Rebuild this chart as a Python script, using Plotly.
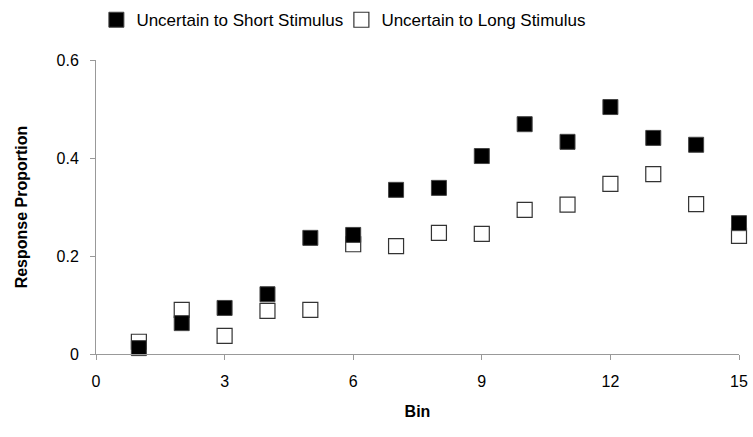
import plotly.graph_objects as go

bins = list(range(1, 16))
short_vals = [0.012, 0.063, 0.094, 0.122, 0.237, 0.243, 0.335, 0.339, 0.404, 0.469, 0.433, 0.504, 0.441, 0.427, 0.267]
long_vals = [0.025, 0.090, 0.037, 0.088, 0.090, 0.224, 0.220, 0.247, 0.245, 0.294, 0.305, 0.347, 0.367, 0.306, 0.241]
x_ticks = [0, 3, 6, 9, 12, 15]
y_ticks = [0, 0.2, 0.4, 0.6]
y_tick_labels = ["0", "0.2", "0.4", "0.6"]

font_main = "Liberation Sans, Arial, sans-serif"

fig = go.Figure()
fig.add_trace(go.Scatter(
    x=bins, y=long_vals, mode="markers", name="Uncertain to Long Stimulus",
    marker=dict(symbol="square", size=15, color="white", line=dict(color="#333333", width=1.2)),
))
fig.add_trace(go.Scatter(
    x=bins, y=short_vals, mode="markers", name="Uncertain to Short Stimulus",
    marker=dict(symbol="square", size=15, color="black", line=dict(color="#444444", width=1)),
))

fig.update_layout(
    width=753, height=437,
    margin=dict(l=96, r=14, t=60, b=83, autoexpand=False),
    plot_bgcolor="white", paper_bgcolor="white",
    font=dict(family=font_main, size=16, color="black"),
    showlegend=True,
    legend=dict(
        orientation="h", traceorder="reversed",
        xref="container", yref="container",
        x=0.128, y=0.995, xanchor="left", yanchor="top",
        font=dict(family=font_main, size=17, color="black"),
        itemwidth=30, entrywidth=200, entrywidthmode="pixels",
    ),
    xaxis=dict(
        range=[0, 15], tickvals=x_ticks, showgrid=False, zeroline=False,
        showline=True, linecolor="#999999", linewidth=1,
        ticks="outside", ticklen=5, tickcolor="#999999",
        ticklabelstandoff=8,
        title=dict(text="<b>Bin</b>", font=dict(size=16), standoff=16),
        tickfont=dict(size=16),
    ),
    yaxis=dict(
        range=[0, 0.6], tickvals=y_ticks, ticktext=y_tick_labels, showgrid=False, zeroline=False,
        showline=True, linecolor="#999999", linewidth=1,
        ticks="outside", ticklen=5, tickcolor="#999999",
        ticklabelstandoff=8,
        title=dict(text="<b>Response Proportion</b>", font=dict(size=16), standoff=24),
        tickfont=dict(size=16),
    ),
)
fig.update_traces(cliponaxis=False)

fig.write_html("out.html")
